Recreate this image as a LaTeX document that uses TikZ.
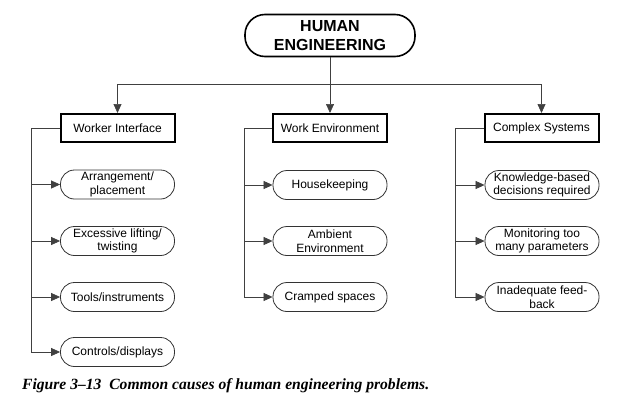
\documentclass[tikz,border=0pt]{standalone}
\usepackage{fontspec}
\setmainfont{Liberation Sans}
\newfontfamily\capfont[Ligatures=TeX]{Liberation Serif}
\usetikzlibrary{arrows.meta}

\def\colA{117.5}
\def\colB{330}
\def\colC{541.5}
\def\busoff{28}

\begin{document}
\begin{tikzpicture}[x=1pt,y=-1pt,
% boxes: the top oval, the three category boxes and the cause ovals
root/.style={
rectangle, rounded corners=20pt,
draw=black, line width=1.6pt, inner sep=0,
minimum width=170pt, minimum height=42pt,
align=center, font=\fontsize{16}{19}\selectfont\bfseries },
catbox/.style={
rectangle, draw=black, line width=2pt, inner sep=0,
minimum width=114pt, minimum height=28pt,
font=\fontsize{12}{13.5}\selectfont },
cause/.style={
rectangle, rounded corners=14pt,
draw=black!80, line width=0.8pt, inner sep=0,
minimum width=114pt, minimum height=29pt,
align=center, font=\fontsize{12}{13.5}\selectfont },
link/.style={
draw=black!75, line width=0.7pt },
arrow/.style={
link, -{Triangle[length=9pt,width=8pt]} },
]
\useasboundingbox (0,0) rectangle (621,407);

%%% top of the tree
\node[root] (root) at (330,35.5) {HUMAN\\ENGINEERING};

%%% the 3 categories
\node[catbox] (c0) at (\colA,128) {Worker Interface};
\node[catbox] (c1) at (\colB,128) {Work Environment};
\node[catbox] (c2) at (\colC,128) {Complex Systems};

%%% the causes of each category
\node[cause] (c00) at (\colA,184.5) {Arrangement/\\placement};
\node[cause] (c01) at (\colA,241) {Excessive lifting/\\twisting};
\node[cause] (c02) at (\colA,297) {Tools/instruments};
\node[cause] (c03) at (\colA,352) {Controls/displays};

\node[cause] (c10) at (\colB,185) {Housekeeping};
\node[cause] (c11) at (\colB,241) {Ambient\\Environment};
\node[cause] (c12) at (\colB,297) {Cramped spaces};

\node[cause] (c20) at (\colC+0.5,185) {Knowledge-based\\decisions required};
\node[cause] (c21) at (\colC+0.5,241) {Monitoring too\\many parameters};
\node[cause] (c22) at (\colC+0.5,297) {Inadequate feed-\\back};

%%% connectors
\draw[link] (root.south) -- ++(0,27.5) coordinate (hub);
\foreach \c in {c0,c1,c2}
  \draw[arrow] (hub) -| (\c.north);

\foreach \c/\k in {c0/c00,c0/c01,c0/c02,c0/c03,c1/c10,c1/c11,c1/c12,c2/c20,c2/c21,c2/c22}
  \draw[arrow] (\c.west) -- ++(-\busoff,0) |- (\k.west);

%%% caption
\node[anchor=west, inner sep=0, font=\capfont\bfseries\itshape\fontsize{15.6}{17}\selectfont] (caption) at (22,386)
  {Figure 3–13\ \ Common causes of human engineering problems.};

\end{tikzpicture}
\end{document}
